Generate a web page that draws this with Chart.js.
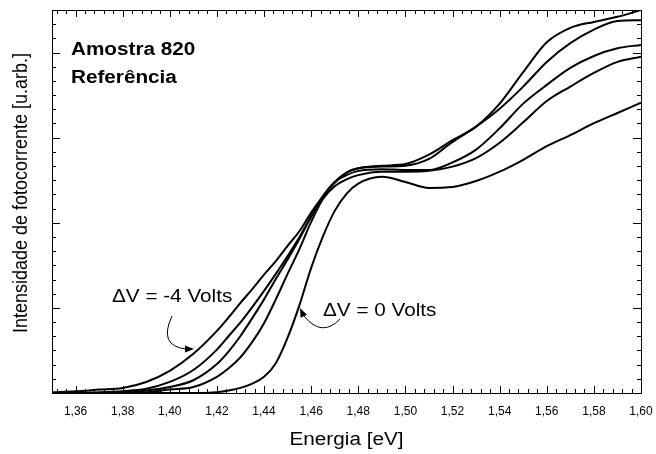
<!DOCTYPE html>
<html>
<head>
<meta charset="utf-8">
<script src="https://cdn.jsdelivr.net/npm/chart.js@4.4.1/dist/chart.umd.min.js"></script>
<style>
  html, body { margin: 0; padding: 0; background: #fff; }
  #grafico { display: block; }
</style>
</head>
<body>
<canvas id="grafico" width="656" height="454"></canvas>
<script>
// ── Dados (intensidade em u.arb.) ──────────────────────────────
const energia = [1.35, 1.36, 1.37, 1.38, 1.39, 1.40, 1.41, 1.42,
  1.425, 1.43, 1.435, 1.44, 1.445, 1.45, 1.455, 1.46, 1.465, 1.47, 1.475,
  1.48, 1.49, 1.50, 1.51, 1.52, 1.53, 1.54, 1.55, 1.56, 1.57, 1.58, 1.59, 1.60];

// ΔV = -4 Volts (borda mais larga)
const curvaA = [0.01, 0.02, 0.04, 0.06, 0.13, 0.26, 0.46, 0.73,
  0.89, 1.06, 1.22, 1.39, 1.55, 1.73, 1.90, 2.12, 2.31, 2.47, 2.59,
  2.64, 2.67, 2.69, 2.80, 2.97, 3.13, 3.40, 3.77, 4.12, 4.29, 4.36, 4.42, 4.50];
const curvaB = [0, 0, 0.01, 0.02, 0.05, 0.13, 0.27, 0.51,
  0.67, 0.83, 1.01, 1.20, 1.40, 1.61, 1.83, 2.08, 2.31, 2.48, 2.59,
  2.64, 2.66, 2.67, 2.75, 2.95, 3.13, 3.34, 3.60, 3.89, 4.11, 4.27, 4.37, 4.38];
const curvaC = [0, 0, 0, 0.01, 0.03, 0.07, 0.15, 0.34,
  0.49, 0.67, 0.88, 1.10, 1.34, 1.57, 1.81, 2.07, 2.31, 2.48, 2.56,
  2.61, 2.63, 2.62, 2.62, 2.71, 2.86, 3.11, 3.40, 3.62, 3.82, 3.96, 4.05, 4.09];
const curvaD = [0, 0, 0, 0, 0.01, 0.04, 0.07, 0.19,
  0.29, 0.42, 0.60, 0.82, 1.10, 1.40, 1.69, 2.01, 2.28, 2.43, 2.51,
  2.56, 2.60, 2.60, 2.61, 2.66, 2.76, 2.94, 3.18, 3.43, 3.60, 3.76, 3.89, 3.95];
// ΔV = 0 Volts (borda mais abrupta)
const curvaE = [0, 0, 0, 0, 0, 0, 0, 0.01,
  0.03, 0.06, 0.11, 0.19, 0.35, 0.65, 1.03, 1.47, 1.84, 2.14, 2.34,
  2.46, 2.54, 2.48, 2.41, 2.42, 2.49, 2.60, 2.74, 2.90, 3.03, 3.17, 3.29, 3.41];

const xTickValores = [1.36, 1.38, 1.40, 1.42, 1.44, 1.46, 1.48, 1.50, 1.52, 1.54, 1.56, 1.58, 1.60];
const xTickTextos  = ['1,36', '1,38', '1,40', '1,42', '1,44', '1,46', '1,48', '1,50', '1,52', '1,54', '1,56', '1,58', '1,60'];

const FONTE = '"Liberation Sans", Arial, Helvetica, sans-serif';
const ESTICA = 1.15; // o texto da figura original é mais largo que alto

function texto(ctx, txt, px, py) {
  ctx.save();
  ctx.translate(px, py);
  ctx.scale(ESTICA, 1);
  ctx.fillText(txt, 0, 0);
  ctx.restore();
}

function seta(ctx, px, py, ang) {
  ctx.save();
  ctx.translate(px, py);
  ctx.rotate(ang);
  ctx.beginPath();
  ctx.moveTo(0, 0);
  ctx.lineTo(-9, -3.5);
  ctx.lineTo(-9, 3.5);
  ctx.closePath();
  ctx.fill();
  ctx.restore();
}

// ── Moldura, marcas e textos ───────────────────────────────────
const moldura = {
  id: 'moldura',
  afterDraw(chart) {
    const { ctx, chartArea: a, scales: { x, y } } = chart;
    ctx.save();
    ctx.strokeStyle = '#000';
    ctx.fillStyle = '#000';
    ctx.lineWidth = 1;
    ctx.strokeRect(Math.round(a.left) + 0.5, Math.round(a.top) + 0.5,
      Math.round(a.right - a.left), Math.round(a.bottom - a.top));

    // marcas do eixo x (menores a cada 0,004)
    ctx.beginPath();
    for (let i = 0; i <= 62; i++) {
      const v = 1.352 + i * 0.004;
      if (v > 1.6001) break;
      const px = Math.round(x.getPixelForValue(v)) + 0.5;
      const maior = xTickValores.some(t => Math.abs(t - v) < 1e-6);
      const len = maior ? 7 : 4;
      ctx.moveTo(px, a.bottom); ctx.lineTo(px, a.bottom - len);
      ctx.moveTo(px, a.top); ctx.lineTo(px, a.top + len);
    }
    // marcas do eixo y (menores a cada 1/6)
    for (let i = 0; i <= 27; i++) {
      const py = Math.round(y.getPixelForValue(i / 6)) + 0.5;
      const len = (i % 6 === 0) ? 8 : 4;
      ctx.moveTo(a.left, py); ctx.lineTo(a.left + len, py);
      ctx.moveTo(a.right, py); ctx.lineTo(a.right - len, py);
    }
    ctx.stroke();

    // rótulos do eixo x
    ctx.font = '12px ' + FONTE;
    ctx.textAlign = 'center';
    ctx.textBaseline = 'alphabetic';
    xTickValores.forEach((v, i) => {
      ctx.fillText(xTickTextos[i], x.getPixelForValue(v), 415);
    });

    // títulos dos eixos
    ctx.font = '18px ' + FONTE;
    texto(ctx, 'Energia [eV]', (a.left + a.right) / 2, 445);
    ctx.save();
    ctx.translate(27, 193);
    ctx.rotate(-Math.PI / 2);
    ctx.scale(1, ESTICA);
    ctx.fillText('Intensidade de fotocorrente [u.arb.]', 0, 0);
    ctx.restore();

    // legenda da amostra
    ctx.textAlign = 'left';
    ctx.font = 'bold 18px ' + FONTE;
    texto(ctx, 'Amostra 820', 71, 55);
    texto(ctx, 'Referência', 71, 83);

    // anotações com setas
    ctx.font = '18px ' + FONTE;
    texto(ctx, '\u0394V = -4 Volts', 112, 302);
    texto(ctx, '\u0394V = 0 Volts', 323, 316);

    ctx.lineWidth = 1;
    ctx.beginPath();
    ctx.moveTo(172, 316);
    ctx.quadraticCurveTo(158, 346, 186, 349);
    ctx.stroke();
    seta(ctx, 194, 349, 0);

    ctx.beginPath();
    ctx.moveTo(340, 319);
    ctx.quadraticCurveTo(322, 338, 304, 316);
    ctx.stroke();
    seta(ctx, 300, 308, -2.0);
    ctx.restore();
  }
};

const curvas = [curvaA, curvaB, curvaC, curvaD, curvaE];

new Chart(document.getElementById('grafico'), {
  type: 'line',
  data: {
    datasets: curvas.map(c => ({
      data: energia.map((e, i) => ({ x: e, y: c[i] })),
      borderColor: '#000',
      borderWidth: 2,
      pointRadius: 0,
      cubicInterpolationMode: 'monotone',
      fill: false
    }))
  },
  options: {
    responsive: false,
    animation: false,
    layout: { padding: { left: 52, right: 15, top: 10, bottom: 61 } },
    plugins: { legend: { display: false }, tooltip: { enabled: false } },
    scales: {
      x: { type: 'linear', min: 1.35, max: 1.60, display: false },
      y: { type: 'linear', min: 0, max: 4.5, display: false }
    }
  },
  plugins: [moldura]
});
</script>
</body>
</html>
